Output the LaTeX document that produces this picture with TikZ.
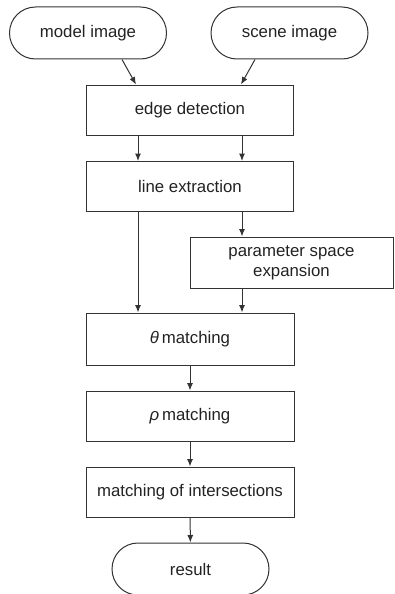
\documentclass[tikz,border=0pt]{standalone}
\usepackage{fontspec}
\setmainfont{Liberation Sans}
\usetikzlibrary{arrows.meta}
\definecolor{ink}{HTML}{333333}
\definecolor{txt}{HTML}{222222}
\tikzset{
  base/.style={draw=ink, line width=1pt, text=txt, font=\fontsize{16.8}{20}\selectfont, align=center, inner sep=0pt},
  procbox/.style={base, rectangle},
  termbox/.style={base, rectangle, rounded corners=26pt, minimum width=157pt, minimum height=52pt},
  arr/.style={draw=ink, line width=1pt, -{Latex[length=7.5pt,width=6pt]}}
}
\begin{document}
\begin{tikzpicture}[x=1pt,y=-1pt]
\useasboundingbox (0,0) rectangle (394,594);
\node[termbox] (model) at (88,33) {model image};
\node[termbox] (scene) at (289.5,33) {scene image};
\node[procbox, minimum width=207pt, minimum height=50pt] (edge) at (190,110) {edge detection};
\node[procbox, minimum width=207pt, minimum height=50pt] (line) at (190,186.5) {line extraction};
\node[procbox, minimum width=203pt, minimum height=51pt] (pse) at (291.5,262.5) {parameter space\\expansion};
\node[procbox, minimum width=208pt, minimum height=52pt] (theta) at (190,339) {{\itshape θ}\,matching};
\node[procbox, minimum width=208pt, minimum height=50pt] (rho) at (190,416) {{\itshape ρ}\,matching};
\node[procbox, minimum width=208pt, minimum height=50pt] (moi) at (190,492) {matching of intersections};
\node[termbox] (result) at (190.5,569) {result};

\draw[arr] ([xshift=34pt]model.south) -- ([xshift=-54pt]edge.north);
\draw[arr] ([xshift=-34.5pt]scene.south) -- ([xshift=51pt]edge.north);
\draw[arr] ([xshift=-52pt]edge.south) -- ([xshift=-52pt]line.north);
\draw[arr] ([xshift=52pt]edge.south) -- ([xshift=52pt]line.north);
\draw[arr] ([xshift=-52pt]line.south) -- ([xshift=-52pt]theta.north);
\draw[arr] ([xshift=52pt]line.south) -- ([xshift=-49.5pt]pse.north);
\draw[arr] ([xshift=-49.5pt]pse.south) -- ([xshift=52pt]theta.north);
\draw[arr] (theta) -- (rho);
\draw[arr] (rho) -- (moi);
\draw[arr] (moi) -- (result);
\end{tikzpicture}
\end{document}
